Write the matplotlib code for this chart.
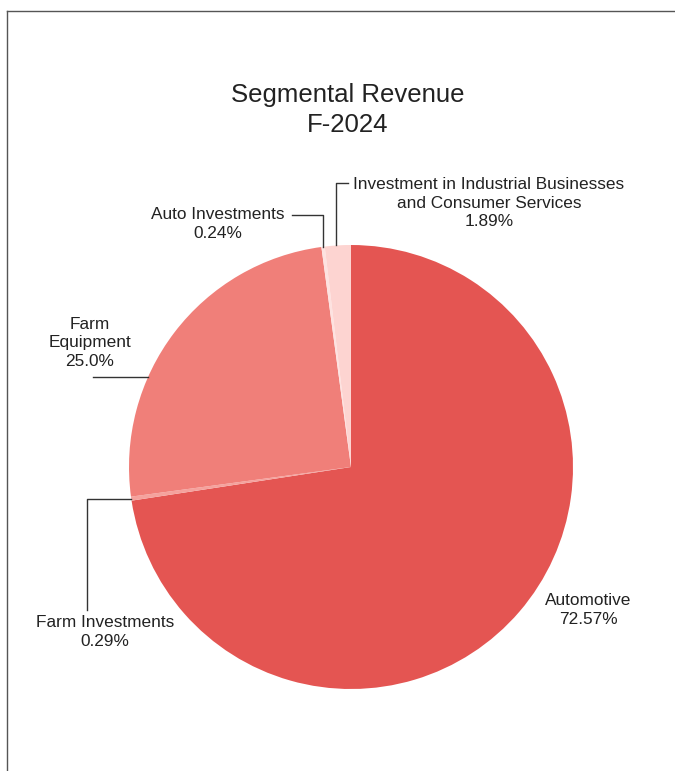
import numpy as np
import matplotlib.pyplot as plt
from matplotlib.lines import Line2D

plt.rcParams['font.family'] = ['Liberation Sans', 'DejaVu Sans']

segments = ["Automotive", "Farm Investments", "Farm Equipment",
            "Auto Investments",
            "Investment in Industrial Businesses\nand Consumer Services"]
shares = [72.57, 0.29, 25.0, 0.24, 1.89]
pct_labels = ["72.57%", "0.29%", "25.0%", "0.24%", "1.89%"]
colors = ["#E45552", "#F5A29D", "#F07F79", "#FDE2E0", "#FDD4D1"]

W, H = 675, 771
fig = plt.figure(figsize=(W / 100, H / 100), dpi=100)
ax = fig.add_axes([0, 0, 1, 1])

# pie geometry in pixel units (y measured from the top)
cx, cy, r = 351, 467, 222
ax.pie(shares, colors=colors, startangle=90, counterclock=False,
       center=(cx, H - cy), radius=r, wedgeprops=dict(linewidth=0))
ax.set_xlim(0, W)
ax.set_ylim(0, H)
ax.set_aspect('equal')
ax.axis('off')

def px(x, y):
    return x, H - y

def edge_at(i):
    cum = np.cumsum([0] + shares)
    mid = (cum[i] + cum[i + 1]) / 2
    ang = np.deg2rad(90 - 3.6 * mid)
    return cx + r * np.cos(ang), cy - r * np.sin(ang)

txt = dict(color="#222222", fontsize=12.4, ha="center", va="center",
           multialignment="center", linespacing=1.28)
lc = dict(color="#333333", lw=1)

# title
ax.text(*px(348, 110), "Segmental Revenue\nF-2024", color="#222222",
        fontsize=18.5, ha="center", va="center", linespacing=1.3)

# Automotive
ax.text(*px(588, 610), f"{segments[0]}\n{pct_labels[0]}", **txt)

# Farm Investments
ex, ey = edge_at(1)
ax.plot([ex, 87, 87], [H - ey, H - ey, H - 610], **lc)
ax.text(*px(105, 632), f"{segments[1]}\n{pct_labels[1]}", **txt)

# Farm Equipment
ly = 377
ex = cx - np.sqrt(r ** 2 - (cy - ly) ** 2)
ax.plot([ex, 93], [H - ly, H - ly], **lc)
ax.text(*px(90, 343), f"Farm\nEquipment\n{pct_labels[2]}", **txt)

# Auto Investments
ex, ey = edge_at(3)
ax.plot([ex, ex, 292], [H - ey, H - 215, H - 215], **lc)
ax.text(*px(218, 224), f"{segments[3]}\n{pct_labels[3]}", **txt)

# Industrial businesses
ex, ey = edge_at(4)
ax.plot([ex - 1.5, ex - 1.5, 348], [H - ey, H - 183, H - 183], **lc)
ax.text(*px(489, 203), f"{segments[4]}\n{pct_labels[4]}", **txt)

# frame (top and left edges)
fig.add_artist(Line2D([7 / W, 1], [1 - 11 / H, 1 - 11 / H],
                      transform=fig.transFigure, color="#555555", lw=1))
fig.add_artist(Line2D([7 / W, 7 / W], [0, 1 - 11 / H],
                      transform=fig.transFigure, color="#555555", lw=1))

fig.savefig("out.png", dpi=100, facecolor="white")
